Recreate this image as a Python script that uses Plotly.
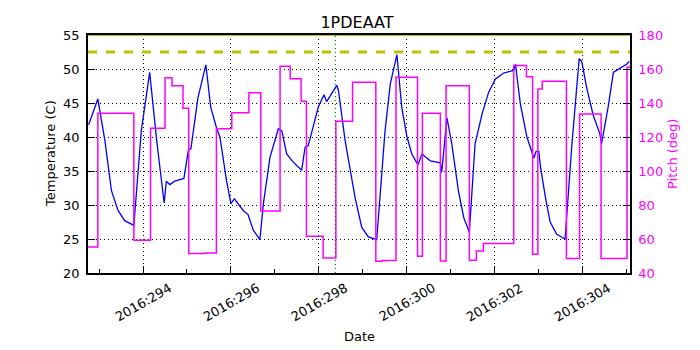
import plotly.graph_objects as go

# Temperature (1PDEAAT), day of year 2016
temp_days = [
    292.76, 292.97, 293.13, 293.28, 293.43, 293.58, 293.79, 293.96, 294.15, 294.31,
    294.48, 294.53, 294.61, 294.72, 294.93, 295.03, 295.09, 295.25, 295.43, 295.54,
    295.67, 295.75, 295.90, 296.00, 296.08, 296.28, 296.39, 296.51, 296.66, 296.74,
    296.89, 297.08, 297.16, 297.27, 297.42, 297.61, 297.69, 297.76, 297.99, 298.12,
    298.18, 298.41, 298.45, 298.60, 298.83, 298.98, 299.13, 299.32, 299.51, 299.63,
    299.78, 299.89, 300.01, 300.12, 300.26, 300.35, 300.54, 300.77, 300.80, 300.92,
    301.03, 301.18, 301.30, 301.43, 301.56, 301.72, 301.87, 302.02, 302.21, 302.44,
    302.48, 302.59, 302.74, 302.90, 302.95, 303.01, 303.05, 303.16, 303.27, 303.42,
    303.61, 303.76, 303.93, 303.99, 304.10, 304.25, 304.40, 304.44, 304.59, 304.71,
    304.78, 305.01, 305.07,
]
temp_values = [
    41.8, 45.6, 39.5, 32.1, 29.2, 27.7, 27.0, 40.9, 49.5, 39.5,
    30.3, 33.5, 33.0, 33.5, 33.9, 38.0, 38.3, 45.8, 50.6, 44.4,
    41.4, 40.0, 33.6, 30.2, 30.9, 29.2, 28.6, 26.3, 24.9, 30.2,
    37.0, 41.2, 40.9, 37.5, 36.3, 35.1, 38.5, 38.7, 44.4, 46.2,
    45.2, 47.6, 46.8, 39.5, 31.0, 26.7, 25.3, 24.9, 40.9, 47.8,
    52.1, 44.4, 40.0, 37.5, 35.9, 37.5, 36.5, 36.2, 34.8, 42.8,
    39.0, 32.1, 28.2, 26.0, 39.0, 43.4, 46.6, 48.5, 49.4, 49.8,
    50.7, 44.9, 40.0, 36.9, 37.9, 37.9, 35.6, 31.2, 27.5, 25.7,
    25.0, 38.5, 51.5, 51.1, 47.3, 43.2, 40.5, 39.0, 44.4, 49.5,
    49.8, 50.7, 51.1,
]

# Pitch steps: day where each pitch value starts
pitch_days = [
    292.746, 292.97, 293.79, 294.17, 294.50, 294.66, 294.91, 295.04, 295.42, 295.67,
    296.02, 296.41, 296.68, 297.12, 297.35, 297.60, 297.72, 298.10, 298.39, 298.77,
    299.30, 299.44, 299.76, 300.25, 300.36, 300.77, 300.90, 301.43, 301.59, 301.75,
    302.44, 302.73, 302.87, 302.99, 303.09, 303.64, 303.94, 304.43, 305.02, 305.088,
]
pitch_values = [
    55.3, 134.0, 59.2, 125.2, 154.8, 150.2, 136.9, 51.4, 51.7, 124.8,
    134.2, 146.1, 76.4, 161.6, 154.2, 141.0, 61.6, 48.8, 129.3, 152.2,
    46.9, 47.4, 155.1, 49.8, 134.0, 47.0, 150.2, 47.5, 52.9, 57.3,
    162.0, 155.5, 51.0, 148.3, 152.8, 48.5, 133.6, 48.5, 161.0, 161.0,
]

planning_limit = 52.5
caution_limit = 55.0
event_day = 298.38

tick_days = [294, 296, 298, 300, 302, 304]
tick_labels = ["2016:294", "2016:296", "2016:298", "2016:300", "2016:302", "2016:304"]
minor_days = [293, 295, 297, 299, 301, 303, 305]

FONT = "DejaVu Sans, Arial, sans-serif"
MAGENTA = "#ff00ff"
OLIVE = "#bfbf00"
GRID_DASH = "1px,3px"

# the page body has an 8px margin, so the figure is 8px smaller than the window
W, H = 692, 342

fig = go.Figure()

fig.add_trace(
    go.Scatter(
        x=pitch_days,
        y=pitch_values,
        mode="lines",
        line=dict(color=MAGENTA, width=1.5, shape="hv"),
        yaxis="y2",
        showlegend=False,
    )
)

fig.add_trace(
    go.Scatter(
        x=temp_days,
        y=temp_values,
        mode="lines",
        line=dict(color="#0000ff", width=1.3),
        showlegend=False,
    )
)

fig.add_hline(y=planning_limit, line=dict(color=OLIVE, width=3, dash="dash"))
fig.add_hline(y=caution_limit, line=dict(color=OLIVE, width=2))
fig.add_vline(x=event_day, line=dict(color="green", width=1.2, dash=GRID_DASH))

# x tick labels centred on their ticks, matplotlib style
for day, label in zip(tick_days, tick_labels):
    fig.add_annotation(
        x=day, y=0, xref="x", yref="paper",
        text=label, textangle=-30, showarrow=False,
        xanchor="center", yanchor="middle", yshift=-29,
        font=dict(family=FONT, size=13, color="black"),
    )

# axis titles
fig.add_annotation(
    x=0.5, y=0, xref="paper", yref="paper", text="Date", showarrow=False,
    xanchor="center", yanchor="middle", yshift=-63,
    font=dict(family=FONT, size=13, color="black"),
)
fig.add_annotation(
    x=0, y=0.5, xref="paper", yref="paper", text="Temperature (C)", showarrow=False,
    textangle=-90, xanchor="center", yanchor="middle", xshift=-38,
    font=dict(family=FONT, size=13, color="black"),
)
fig.add_annotation(
    x=1, y=0.5, xref="paper", yref="paper", text="Pitch (deg)", showarrow=False,
    textangle=-90, xanchor="center", yanchor="middle", xshift=42,
    font=dict(family=FONT, size=13, color=MAGENTA),
)

fig.update_layout(
    width=W,
    height=H,
    margin=dict(l=80, r=70, t=27, b=77),
    paper_bgcolor="white",
    plot_bgcolor="white",
    font=dict(family=FONT, size=13, color="black"),
    title=dict(
        text="1PDEAAT",
        x=(357 - 8) / W,
        xanchor="center",
        y=1 - 14 / H,
        yanchor="middle",
        font=dict(family=FONT, size=16, color="black"),
    ),
    xaxis=dict(
        range=[292.746, 305.088],
        tickvals=tick_days,
        ticktext=tick_labels,
        showticklabels=False,
        ticks="inside",
        ticklen=7,
        tickcolor="black",
        minor=dict(tickvals=minor_days, ticks="inside", ticklen=4, tickcolor="black"),
        showgrid=True,
        gridcolor="black",
        griddash=GRID_DASH,
        gridwidth=1,
        showline=True,
        linecolor="black",
        linewidth=1.5,
        mirror=True,
        zeroline=False,
        automargin=False,
    ),
    yaxis=dict(
        range=[20, 55],
        dtick=5,
        ticks="inside",
        ticklen=7,
        tickcolor="black",
        ticklabelstandoff=4,
        showgrid=True,
        gridcolor="black",
        griddash=GRID_DASH,
        gridwidth=1,
        showline=True,
        linecolor="black",
        linewidth=1.5,
        mirror=True,
        zeroline=False,
        automargin=False,
    ),
    yaxis2=dict(
        range=[40, 180],
        dtick=20,
        overlaying="y",
        side="right",
        ticks="inside",
        ticklen=7,
        tickcolor="black",
        ticklabelstandoff=4,
        tickfont=dict(color=MAGENTA, size=13),
        showgrid=False,
        zeroline=False,
        showline=True,
        linecolor="black",
        linewidth=1.5,
        automargin=False,
    ),
)

fig.write_html("out.html")
